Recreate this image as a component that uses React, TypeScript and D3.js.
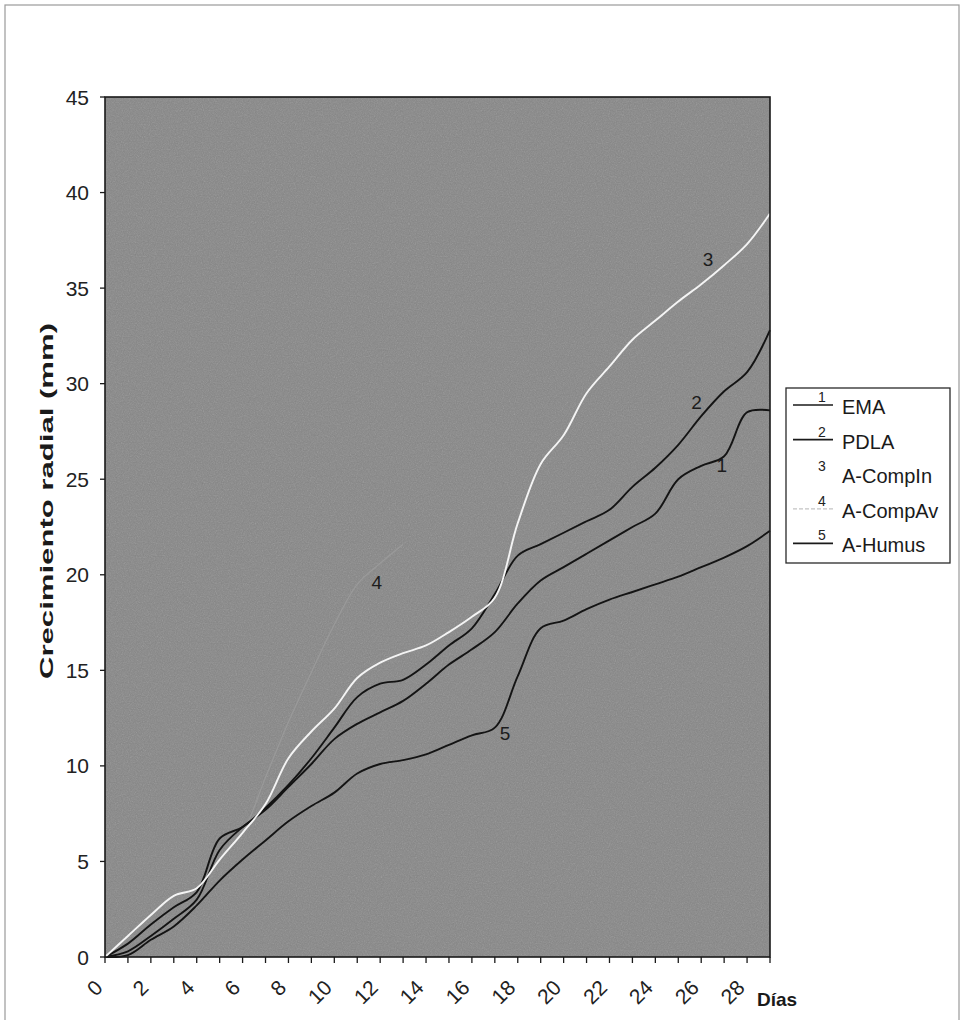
import React from "react";
import * as d3 from "d3";

// ---- data ----
const days = [0, 1, 2, 3, 4, 5, 6, 7, 8, 9, 10, 11, 12, 13, 14, 15, 16, 17, 18, 19, 20, 21, 22, 23, 24, 25, 26, 27, 28, 29];
const xTickLabels = [0, 2, 4, 6, 8, 10, 12, 14, 16, 18, 20, 22, 24, 26, 28];
const yTicks = [0, 5, 10, 15, 20, 25, 30, 35, 40, 45];

const ema = [0, 0.3, 1.1, 2.0, 3.0, 5.6, 6.8, 7.7, 8.9, 10.1, 11.4, 12.2, 12.8, 13.4, 14.3, 15.3, 16.1, 17.0, 18.5, 19.7, 20.4, 21.1, 21.8, 22.5, 23.2, 25.0, 25.7, 26.2, 28.5, 28.6];
const pdla = [0, 0.7, 1.7, 2.6, 3.4, 6.2, 6.8, 7.8, 9.0, 10.4, 12.0, 13.6, 14.3, 14.5, 15.3, 16.3, 17.2, 19.0, 21.0, 21.6, 22.2, 22.8, 23.4, 24.6, 25.6, 26.8, 28.3, 29.6, 30.6, 32.8];
const compIn = [0, 1.1, 2.2, 3.2, 3.6, 5.1, 6.5, 8.0, 10.4, 11.8, 13.0, 14.6, 15.4, 15.9, 16.3, 17.0, 17.8, 18.8, 22.7, 25.8, 27.3, 29.5, 30.9, 32.3, 33.3, 34.3, 35.2, 36.2, 37.3, 38.9];
const compAv: (number | null)[] = [0, 1.1, 2.2, 3.2, 3.6, 5.1, 6.5, 9.4, 12.3, 14.9, 17.4, 19.5, 20.6, 21.6, null, null, null, null, null, null, null, null, null, null, null, null, null, null, null, null];
const humus = [0, 0.1, 0.9, 1.6, 2.7, 4.0, 5.1, 6.1, 7.1, 7.9, 8.6, 9.6, 10.1, 10.3, 10.6, 11.1, 11.6, 12.0, 14.7, 17.2, 17.6, 18.2, 18.7, 19.1, 19.5, 19.9, 20.4, 20.9, 21.5, 22.3];

const seriesNames = ["EMA", "PDLA", "A-CompIn", "A-CompAv", "A-Humus"];
const seriesNums = ["1", "2", "3", "4", "5"];
// in-plot number labels: [day, value]
const lineLabelPos: [number, number][] = [
  [26.9, 25.7],
  [25.8, 29.0],
  [26.3, 36.5],
  [11.85, 19.6],
  [17.45, 11.7],
];

const W = 963;
const H = 1020;
const FONT = "'Liberation Sans', Arial, Helvetica, sans-serif";

export default function App() {
  const left = 105, right = 770, top = 97, bottom = 957;
  const x = d3.scaleLinear().domain([0, 29]).range([left, right]);
  const y = d3.scaleLinear().domain([0, 45]).range([bottom, top]);

  const lineGen = d3
    .line<number | null>()
    .defined((d) => d !== null)
    .x((_, i) => x(days[i]))
    .y((d) => y(d as number))
    .curve(d3.curveCatmullRom.alpha(0.5));

  const seriesData: (number | null)[][] = [ema, pdla, compIn, compAv, humus];
  const styles = [
    { stroke: "#141414", width: 1.9, dash: "" },
    { stroke: "#141414", width: 1.9, dash: "" },
    { stroke: "#f4f4f4", width: 1.9, dash: "" },
    { stroke: "#9a9a9a", width: 1.2, dash: "" },
    { stroke: "#141414", width: 1.9, dash: "" },
  ];
  const drawOrder = [3, 4, 0, 1, 2];

  // legend layout
  const lg = { x: 786, y: 388, w: 164, h: 175 };
  const rowH = 34.6;

  return (
    <svg
      width={W}
      height={H}
      style={{ position: "absolute", left: 0, top: 0, background: "#fff" }}
      fontFamily={FONT}
    >
      <defs>
        <filter id="grain" x="0" y="0" width="100%" height="100%">
          <feTurbulence type="fractalNoise" baseFrequency="0.85" numOctaves="2" seed="4" />
          <feColorMatrix type="saturate" values="0" />
        </filter>
        <clipPath id="plotclip">
          <rect x={left} y={top - 2} width={right - left + 2} height={bottom - top + 4} />
        </clipPath>
      </defs>
      <rect x={5} y={5} width={954} height={1018} fill="#fff" stroke="#9a9a9a" strokeWidth={1.2} />

      {/* plot area */}
      <rect x={left} y={top} width={right - left} height={bottom - top} fill="#868686" />
      <rect x={left} y={top} width={right - left} height={bottom - top} filter="url(#grain)" opacity={0.28} />

      {/* series */}
      <g clipPath="url(#plotclip)">
        {drawOrder.map((si) => (
          <path
            key={si}
            d={lineGen(seriesData[si]) || ""}
            fill="none"
            stroke={styles[si].stroke}
            strokeWidth={styles[si].width}
            strokeDasharray={styles[si].dash}
            strokeLinejoin="round"
          />
        ))}
      </g>

      {/* line number labels */}
      {lineLabelPos.map(([dd, vv], i) => (
        <text key={i} x={x(dd)} y={y(vv)} fontSize={19} fill="#1c1c1c" textAnchor="middle" dominantBaseline="central">
          {seriesNums[i]}
        </text>
      ))}

      {/* plot frame */}
      <rect x={left} y={top} width={right - left} height={bottom - top} fill="none" stroke="#1a1a1a" strokeWidth={1.6} />

      {/* y axis */}
      {yTicks.map((t) => (
        <g key={t}>
          <line x1={left - 5} x2={left} y1={y(t)} y2={y(t)} stroke="#1a1a1a" strokeWidth={1.3} />
          <text x={left - 16} y={y(t)} fontSize={21} fill="#222" textAnchor="end" dominantBaseline="central">
            {t}
          </text>
        </g>
      ))}

      {/* x axis ticks */}
      {days.map((d) => (
        <line key={d} x1={x(d)} x2={x(d)} y1={bottom} y2={bottom + 6} stroke="#1a1a1a" strokeWidth={1.3} />
      ))}
      {xTickLabels.map((d) => (
        <text
          key={d}
          x={0}
          y={0}
          fontSize={21}
          fill="#222"
          textAnchor="end"
          transform={`translate(${x(d) - 1},${bottom + 32}) rotate(-45)`}
        >
          {d}
        </text>
      ))}

      {/* axis titles */}
      <text x={757} y={1006} fontSize={19} fontWeight="bold" fill="#1a1a1a">
        Días
      </text>
      <text
        transform={`translate(53,501) rotate(-90)`}
        fontSize={19}
        fontWeight="bold"
        fill="#1a1a1a"
        textAnchor="middle"
        textLength={356}
        lengthAdjust="spacingAndGlyphs"
      >
        Crecimiento radial (mm)
      </text>

      {/* legend */}
      <rect x={lg.x} y={lg.y} width={lg.w} height={lg.h} fill="#fff" stroke="#2a2a2a" strokeWidth={1.3} />
      {seriesNames.map((name, i) => {
        const cy = lg.y + 19 + i * rowH;
        const ly = cy - 2;
        return (
          <g key={name}>
            <line
              x1={lg.x + 7}
              x2={lg.x + 47}
              y1={ly}
              y2={ly}
              stroke={i === 2 ? "#ffffff" : i === 3 ? "#c4c4c4" : "#1a1a1a"}
              strokeWidth={i === 3 ? 1.2 : 1.6}
              strokeDasharray={i === 3 ? "4,2" : ""}
            />
            <text x={lg.x + 36} y={ly - 3} fontSize={14} fill="#222" textAnchor="middle">
              {seriesNums[i]}
            </text>
            <text x={lg.x + 56} y={cy} fontSize={20} fill="#1a1a1a" dominantBaseline="central">
              {name}
            </text>
          </g>
        );
      })}
    </svg>
  );
}
